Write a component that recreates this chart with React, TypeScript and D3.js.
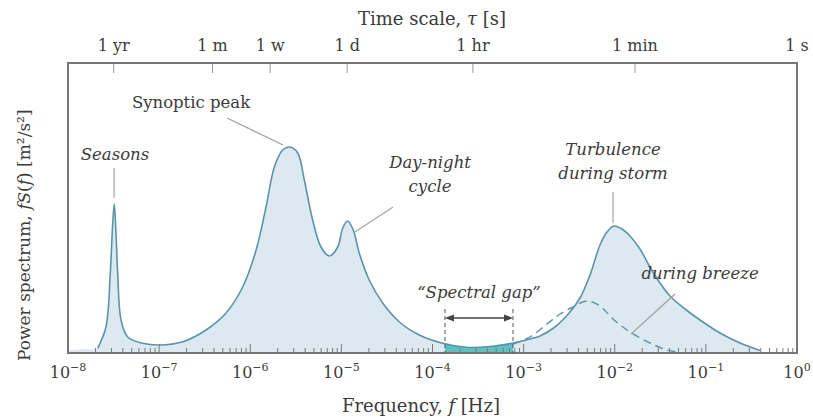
import React from "react";
import * as d3 from "d3";

// ---------- data ----------
// Frequency [Hz] and power fS(f) (arbitrary linear units) of the wind spectrum
const FREQ = [
  2.12e-8, 2.61e-8, 2.91e-8, 3.09e-8, 3.22e-8, 3.36e-8, 3.51e-8, 3.82e-8, 4.52e-8, 6.61e-8,
  1.0e-7, 1.82e-7, 3.27e-7, 5.42e-7, 8.26e-7, 1.16e-6, 1.49e-6, 1.84e-6, 2.27e-6, 2.73e-6,
  3.32e-6, 3.92e-6, 4.84e-6, 5.97e-6, 7.38e-6, 9.12e-6, 1.035e-5, 1.17e-5, 1.35e-5, 1.57e-5,
  2.02e-5, 2.84e-5, 4.33e-5, 7.16e-5, 1.29e-4, 2.33e-4, 4.28e-4, 7.64e-4, 1.175e-3, 1.512e-3,
  2.209e-3, 3.228e-3, 4.156e-3, 5.351e-3, 6.888e-3, 8.222e-3, 9.813e-3, 1.201e-2, 1.47e-2, 1.892e-2,
  2.436e-2, 3.137e-2, 4.039e-2, 5.901e-2, 8.619e-2, 0.1429, 0.2368, 0.3926,
];
const POWER = [
  4.7, 26, 80, 128, 149, 120, 80, 33, 16, 9.7,
  8, 11.3, 23, 40, 66, 103, 146, 186, 203, 206,
  200, 173, 133, 106, 97, 106, 125, 132, 123, 100,
  73, 50, 31, 18, 9.7, 5.7, 6.5, 10, 14, 17,
  26, 41, 55, 78, 108, 121, 127, 124, 117, 104,
  86, 70, 57, 44, 33, 20, 10, 2.5,
];
// faint low-frequency tail (fill only)
const TAIL_FREQ = [1e-8, 1.5e-8];
const TAIL_POWER = [2.5, 4];
// turbulence during breeze (dashed)
const BREEZE_FREQ = [7.64e-4, 1.175e-3, 1.805e-3, 2.51e-3, 3.48e-3, 4.96e-3, 6.888e-3, 9.57e-3, 1.47e-2, 2.436e-2, 3.745e-2, 5.2e-2];
const BREEZE_POWER = [9, 16, 29, 39, 46, 52, 47, 34, 21, 10, 3, 0.5];

// spectral gap limits [Hz]
const GAP = [1.37e-4, 7.64e-4];

// bottom axis decades
const DECADES = [-8, -7, -6, -5, -4, -3, -2, -1, 0];
// top axis: time scale labels and their durations in seconds
const TIME_LABELS = ["1 yr", "1 m", "1 w", "1 d", "1 hr", "1 min", "1 s"];
const TIME_SECONDS = [31557600, 2592000, 604800, 86400, 3600, 60, 1];

// annotations: text anchor (f, v) and leader line from (f1,v1) to (f2,v2)
const ANNOTATIONS = [
  { lines: ["Synoptic peak"], italic: false, f: 2.24e-7, v: 245, l: [5.56e-7, 235, 2.29e-6, 208] },
  { lines: ["Seasons"], italic: true, f: 3.28e-8, v: 193, l: [3.2e-8, 185, 3.2e-8, 155] },
  { lines: ["Day-night", "cycle"], italic: true, f: 9.4e-5, v: 185, l: [3.69e-5, 146, 1.41e-5, 121] },
  { lines: ["Turbulence", "during storm"], italic: true, f: 9.57e-3, v: 198, l: [9.57e-3, 161, 9.57e-3, 130] },
  { lines: ["during breeze"], italic: true, f: 8.63e-2, v: 74, l: [4.58e-2, 59, 1.51e-2, 19] },
];

// ---------- layout ----------
const W = 813;
const H = 419;
const M = { left: 68, right: 797, top: 63, bottom: 353 };
const FONT = "'DejaVu Serif', serif";
const TEXT = "#3b3b3b";

export default function App() {
  const x = d3.scaleLog().domain([1e-8, 1]).range([M.left, M.right]);
  const y = d3.scaleLinear().domain([0, 290]).range([M.bottom, M.top]);

  const main = FREQ.map((f, i) => [f, POWER[i]] as [number, number]);
  const fillData = TAIL_FREQ.map((f, i) => [f, TAIL_POWER[i]] as [number, number]).concat(main);
  const breeze = BREEZE_FREQ.map((f, i) => [f, BREEZE_POWER[i]] as [number, number]);

  const curve = d3.curveCatmullRom.alpha(0.5);
  const line = d3.line<[number, number]>().x((d) => x(d[0])).y((d) => y(d[1])).curve(curve);
  const area = d3
    .area<[number, number]>()
    .x((d) => x(d[0]))
    .y0(y(0))
    .y1((d) => y(d[1]))
    .curve(curve);

  const minorTicks: { f: number; major: boolean }[] = [];
  for (let k = -8; k < 0; k++) {
    for (let m = 1; m <= 9; m++) {
      const f = m * Math.pow(10, k);
      if (k === -8 && m === 1) continue;
      minorTicks.push({ f, major: m === 1 });
    }
  }

  const gx0 = x(GAP[0]);
  const gx1 = x(GAP[1]);
  const arrowY = y(35);

  return (
    <svg
      width={W}
      height={H}
      viewBox={`0 0 ${W} ${H}`}
      style={{ position: "absolute", left: 0, top: 0, background: "#fff" }}
      fontFamily={FONT}
    >
      <defs>
        <clipPath id="gapClip">
          <rect x={gx0} y={M.top} width={gx1 - gx0} height={M.bottom - M.top} />
        </clipPath>
      </defs>

      {/* spectrum fill */}
      <path d={area(fillData) || ""} fill="#dde9f1" />
      <path d={area(main) || ""} fill="#5fc0bf" clipPath="url(#gapClip)" />
      <path d={line(main) || ""} fill="none" stroke="#5b93aa" strokeWidth={1.6} />
      <path d={line(breeze) || ""} fill="none" stroke="#5b93aa" strokeWidth={1.4} strokeDasharray="8,5" />

      {/* bottom ticks */}
      {minorTicks.map((t, i) => (
        <line
          key={i}
          x1={x(t.f)}
          x2={x(t.f)}
          y1={M.bottom}
          y2={M.bottom - (t.major ? 9 : 5)}
          stroke="#7a7a7a"
          strokeWidth={1}
        />
      ))}
      {/* top ticks */}
      {TIME_SECONDS.map((s, i) =>
        i === TIME_SECONDS.length - 1 ? null : (
          <line key={i} x1={x(1 / s)} x2={x(1 / s)} y1={M.top} y2={M.top + 10} stroke="#9a9a9a" strokeWidth={1} />
        )
      )}

      {/* frame */}
      <rect
        x={M.left}
        y={M.top}
        width={M.right - M.left}
        height={M.bottom - M.top}
        fill="none"
        stroke="#767676"
        strokeWidth={2}
      />

      {/* spectral gap */}
      {[gx0, gx1].map((gx, i) => (
        <line key={i} x1={gx} x2={gx} y1={y(44)} y2={M.bottom} stroke="#555" strokeWidth={1} strokeDasharray="4,3" />
      ))}
      <line x1={gx0 + 2} x2={gx1 - 2} y1={arrowY} y2={arrowY} stroke="#444" strokeWidth={1.3} />
      <path d={`M${gx0},${arrowY} L${gx0 + 9},${arrowY - 3.5} L${gx0 + 9},${arrowY + 3.5} Z`} fill="#444" />
      <path d={`M${gx1},${arrowY} L${gx1 - 9},${arrowY - 3.5} L${gx1 - 9},${arrowY + 3.5} Z`} fill="#444" />
      <text
        x={x(Math.sqrt(GAP[0] * GAP[1]))}
        y={y(55)}
        textAnchor="middle"
        fontSize={16.5}
        fontStyle="italic"
        fill={TEXT}
      >
        {"\u201CSpectral gap\u201D"}
      </text>

      {/* annotations */}
      {ANNOTATIONS.map((a, i) => (
        <g key={i}>
          <line
            x1={x(a.l[0])}
            y1={y(a.l[1])}
            x2={x(a.l[2])}
            y2={y(a.l[3])}
            stroke="#a3a3a3"
            strokeWidth={1.2}
          />
          {a.lines.map((t, j) => (
            <text
              key={j}
              x={x(a.f)}
              y={y(a.v) + j * 24}
              textAnchor="middle"
              fontSize={16.5}
              fontStyle={a.italic ? "italic" : "normal"}
              fill={TEXT}
            >
              {t}
            </text>
          ))}
        </g>
      ))}

      {/* bottom tick labels */}
      {DECADES.map((k) => (
        <text key={k} x={x(Math.pow(10, k))} y={378} textAnchor="middle" fontSize={16} fill={TEXT}>
          10
          <tspan dy={-7} fontSize={11}>
            {k === 0 ? "0" : "\u2212" + Math.abs(k)}
          </tspan>
        </text>
      ))}

      {/* top tick labels */}
      {TIME_LABELS.map((lab, i) => (
        <text key={lab} x={x(1 / TIME_SECONDS[i])} y={51} textAnchor="middle" fontSize={16} fill={TEXT}>
          {lab}
        </text>
      ))}

      {/* axis titles */}
      <text x={432} y={25} textAnchor="middle" fontSize={18} fill={TEXT}>
        Time scale, <tspan fontStyle="italic">{"\u03C4"}</tspan> [s]
      </text>
      <text x={421} y={412} textAnchor="middle" fontSize={18} fill={TEXT}>
        Frequency, <tspan fontStyle="italic">f</tspan> [Hz]
      </text>
      <text transform="translate(30,361) rotate(-90)" textAnchor="start" fontSize={17} fill={TEXT}>
        {"Power spectrum, "}
        <tspan fontStyle="italic">fS</tspan>
        {"("}
        <tspan fontStyle="italic">f</tspan>
        {") [m\u00B2/s\u00B2]"}
      </text>
    </svg>
  );
}
